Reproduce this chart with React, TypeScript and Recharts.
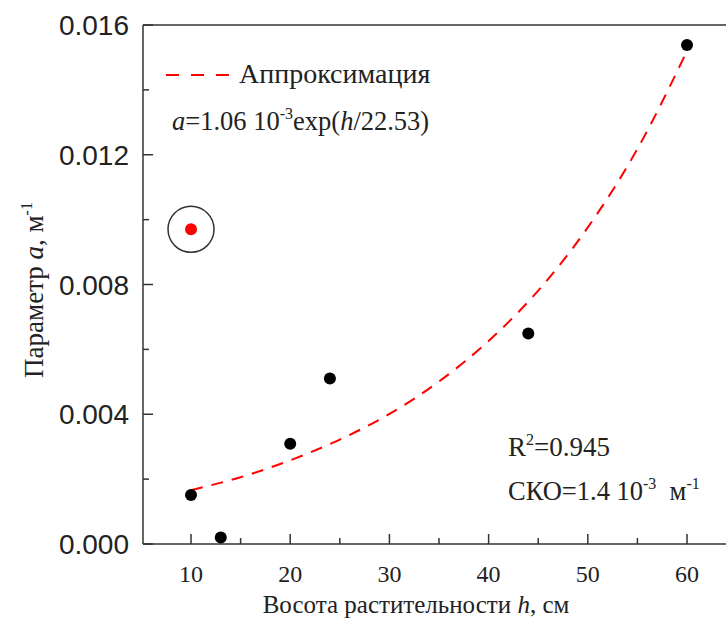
import { ComposedChart, Scatter, Line, XAxis, YAxis, ReferenceLine } from 'recharts';

// measured points: plant height h (cm) vs parameter a (1/m)
const heights = [10, 13, 20, 24, 44, 60];
const paramA = [0.00151, 0.0002, 0.00309, 0.0051, 0.00649, 0.01538];

// outlier (circled, red)
const outlierH = [10];
const outlierA = [0.0097];

// approximation curve
const fitH = [10, 15, 20, 25, 30, 35, 40, 45, 50, 55, 60];
const fitA = [0.00166, 0.00206, 0.00258, 0.00322, 0.00401, 0.00501, 0.00626, 0.00781, 0.00976, 0.01218, 0.0152];

const xTicks = [10, 15, 20, 25, 30, 35, 40, 45, 50, 55, 60];
const yTicks = [0, 0.002, 0.004, 0.006, 0.008, 0.01, 0.012, 0.014, 0.016];

const points = heights.map((h, i) => ({ h, a: paramA[i] }));
const outliers = outlierH.map((h, i) => ({ h, a: outlierA[i] }));
const fit = fitH.map((h, i) => ({ h, a: fitA[i] }));

const AXIS = '#333';
const SERIF = '"Liberation Serif", "Times New Roman", serif';
const SANS = '"Liberation Sans", Arial, sans-serif';

const XTick = (props: any) => {
  const { x, y, payload } = props;
  const major = payload.value % 10 === 0;
  return (
    <g>
      <line x1={x} x2={x} y1={y} y2={y - (major ? 10 : 6)} stroke={AXIS} strokeWidth={1.5} />
      {major && (
        <text x={x} y={y + 38} textAnchor="middle" fontFamily={SERIF} fontSize={24} fill="#222">
          {payload.value}
        </text>
      )}
    </g>
  );
};

const YTick = (props: any) => {
  const { x, y, payload } = props;
  const major = Math.round(payload.value * 1000) % 4 === 0;
  return (
    <g>
      <line x1={x} x2={x + (major ? 10 : 6)} y1={y} y2={y} stroke={AXIS} strokeWidth={1.5} />
      {major && (
        <text x={x - 14} y={y} dy="0.36em" textAnchor="end" fontFamily={SANS} fontSize={28} fill="#222">
          {payload.value.toFixed(3)}
        </text>
      )}
    </g>
  );
};

const Dot = (props: any) => <circle cx={props.cx} cy={props.cy} r={6} fill="#000" />;

const CircledDot = (props: any) => (
  <g>
    <circle cx={props.cx} cy={props.cy} r={6} fill="#ff0000" />
    <circle cx={props.cx} cy={props.cy} r={23} fill="none" stroke={AXIS} strokeWidth={1.5} />
  </g>
);

export default function App() {
  return (
    <div style={{ position: 'absolute', left: 0, top: 0, background: '#fff' }}>
      <ComposedChart width={726} height={619} margin={{ top: 25, right: 0, bottom: 0, left: 0 }}>
        <XAxis
          type="number"
          dataKey="h"
          domain={[5.16, 63.93]}
          ticks={xTicks}
          tick={<XTick />}
          tickSize={0}
          tickMargin={0}
          tickLine={false}
          axisLine={{ stroke: AXIS, strokeWidth: 1.5 }}
          height={75}
        />
        <YAxis
          type="number"
          dataKey="a"
          domain={[0, 0.016]}
          ticks={yTicks}
          tick={<YTick />}
          tickSize={0}
          tickMargin={0}
          tickLine={false}
          axisLine={{ stroke: AXIS, strokeWidth: 1.5 }}
          width={143}
        />
        <ReferenceLine y={0.016} stroke={AXIS} strokeWidth={1.5} />
        <Line
          data={fit}
          dataKey="a"
          type="monotone"
          stroke="#ff0000"
          strokeWidth={2}
          strokeDasharray="12 9"
          dot={false}
          isAnimationActive={false}
        />
        <Scatter data={points} dataKey="a" shape={<Dot />} isAnimationActive={false} />
        <Scatter data={outliers} dataKey="a" shape={<CircledDot />} isAnimationActive={false} />

        {/* legend and annotations */}
        <line x1={166} x2={230} y1={75} y2={75} stroke="#ff0000" strokeWidth={2} strokeDasharray="13 12" />
        <text x={239} y={83} fontFamily={SERIF} fontSize={28} fill="#222">Аппроксимация</text>
        <text x={172} y={130} fontFamily={SERIF} fontSize={26.5} fill="#222">
          <tspan fontStyle="italic">a</tspan>=1.06 10
          <tspan dy={-11} fontSize={16}>-3</tspan>
          <tspan dy={11}>exp(</tspan>
          <tspan fontStyle="italic">h</tspan>/22.53)
        </text>
        <text x={508} y={456} fontFamily={SERIF} fontSize={27} fill="#222">
          R<tspan dy={-11} fontSize={16}>2</tspan>
          <tspan dy={11}>=0.945</tspan>
        </text>
        <text x={508} y={500} fontFamily={SERIF} fontSize={26.5} fill="#222" xmlSpace="preserve">
          СКО=1.4 10<tspan dy={-11} fontSize={16}>-3</tspan>
          <tspan dy={11}>  м</tspan>
          <tspan dy={-11} fontSize={16}>-1</tspan>
        </text>
        <text x={416} y={613} textAnchor="middle" fontFamily={SERIF} fontSize={25} fill="#222">
          Восота растительности <tspan fontStyle="italic">h</tspan>, см
        </text>
        <text
          transform="translate(43, 290) rotate(-90)"
          textAnchor="middle"
          fontFamily={SERIF}
          fontSize={27}
          fill="#222"
        >
          Параметр <tspan fontStyle="italic">a</tspan>, м
          <tspan dy={-11} fontSize={16}>-1</tspan>
        </text>
      </ComposedChart>
    </div>
  );
}
